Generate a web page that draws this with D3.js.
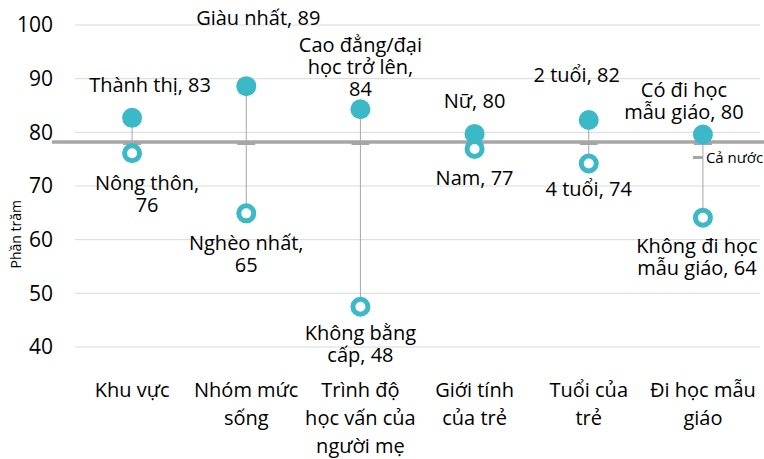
<!DOCTYPE html>
<html>
<head>
<meta charset="utf-8">
<script src="https://cdn.jsdelivr.net/npm/d3@7"></script>
<style>
  body { margin: 0; background: #fff; overflow: hidden; }
  text { font-family: "Open Sans", "Noto Sans", sans-serif; }
</style>
</head>
<body>
<div id="chart"></div>
<script>
// categories (x axis, multi-line)
const categories = [
  ["Khu vực"],
  ["Nhóm mức", "sống"],
  ["Trình độ", "học vấn của", "người mẹ"],
  ["Giới tính", "của trẻ"],
  ["Tuổi của", "trẻ"],
  ["Đi học mẫu", "giáo"]
];
// high group (filled marker); "" as last line = value on its own line
const highNames = [["Thành thị"], ["Giàu nhất"], ["Cao đẳng/đại", "học trở lên", ""], ["Nữ"], ["2 tuổi"], ["Có đi học", "mẫu giáo"]];
const highValues = [82.7, 88.6, 84.3, 79.7, 82.3, 79.6];
// low group (hollow marker)
const lowNames = [["Nông thôn", ""], ["Nghèo nhất", ""], ["Không bằng", "cấp"], ["Nam"], ["4 tuổi"], ["Không đi học", "mẫu giáo"]];
const lowValues = [76.1, 64.9, 47.5, 76.9, 74.2, 64.1];
// national value
const nationalValue = 78.2;
const nationalLabel = "Cả nước";
const yTicks = [40, 50, 60, 70, 80, 90, 100];
const yTitle = "Phần trăm";

const width = 764, height = 459;
const margin = { top: 25, right: 4, bottom: 112, left: 75 };
const teal = "#3bb9c6", grey = "#a6a6a6";

const svg = d3.select("#chart").append("svg")
  .attr("width", width).attr("height", height);

const x = d3.scaleBand()
  .domain(d3.range(categories.length))
  .range([margin.left, width - margin.right]);
const y = d3.scaleLinear()
  .domain([40, 100])
  .range([height - margin.bottom, margin.top]);

// gridlines
svg.append("g").selectAll("line").data(yTicks).join("line")
  .attr("x1", margin.left).attr("x2", width - margin.right)
  .attr("y1", d => y(d)).attr("y2", d => y(d))
  .attr("stroke", "#d9d9d9").attr("stroke-width", 1);

// y axis labels
const yAxis = svg.append("g")
  .attr("transform", `translate(${margin.left - 22},0)`)
  .call(d3.axisLeft(y).tickValues(yTicks).tickSize(0).tickPadding(0));
yAxis.select(".domain").remove();
yAxis.selectAll("text")
  .style("font-family", "'Open Sans', sans-serif")
  .style("font-size", "21px").attr("fill", "#000");

svg.append("text")
  .attr("transform", `translate(21,${y(61)}) rotate(-90)`)
  .attr("text-anchor", "middle")
  .style("font-size", "14px")
  .text(yTitle);

// national average line
svg.append("line")
  .attr("x1", 52).attr("x2", width)
  .attr("y1", y(nationalValue)).attr("y2", y(nationalValue))
  .attr("stroke", grey).attr("stroke-width", 3.5);

const cx = i => x(i) + x.bandwidth() / 2;

// hi-lo lines
svg.append("g").selectAll("line").data(categories).join("line")
  .attr("x1", (d, i) => cx(i)).attr("x2", (d, i) => cx(i))
  .attr("y1", (d, i) => y(highValues[i])).attr("y2", (d, i) => y(lowValues[i]))
  .attr("stroke", grey).attr("stroke-width", 1);

// national dash markers
svg.append("g").selectAll("rect").data(categories).join("rect")
  .attr("x", (d, i) => cx(i) - 9).attr("y", y(nationalValue) - 0.5)
  .attr("width", 18).attr("height", 3.5)
  .attr("fill", grey);

// markers
svg.append("g").selectAll("circle").data(lowValues).join("circle")
  .attr("cx", (d, i) => cx(i)).attr("cy", d => y(d))
  .attr("r", 7.5).attr("fill", "#fff")
  .attr("stroke", teal).attr("stroke-width", 5);
svg.append("g").selectAll("circle").data(highValues).join("circle")
  .attr("cx", (d, i) => cx(i)).attr("cy", d => y(d))
  .attr("r", 10).attr("fill", teal);

// data label placement: [dx, dy of first baseline relative to point]
const highPlace = [[18, -26], [12, -61], [0, -57], [0, -26], [-12, -38], [-19, -37]];
const lowPlace = [[15, 37], [0, 37], [0, 33], [0, 36], [0, 33], [-6, 35]];
const lineH = 22;

function drawLabels(names, values, place) {
  names.forEach((lines, i) => {
    const v = Math.round(values[i]);
    let labelLines;
    if (lines[lines.length - 1] === "") {
      labelLines = lines.slice(0, -1);
      labelLines[labelLines.length - 1] += ",";
      labelLines.push(String(v));
    } else {
      labelLines = lines.slice();
      labelLines[labelLines.length - 1] += ", " + v;
    }
    const t = svg.append("text")
      .attr("text-anchor", "middle")
      .style("font-size", "20px")
      .attr("fill", "#000");
    labelLines.forEach((ln, k) => {
      t.append("tspan")
        .attr("x", cx(i) + place[i][0])
        .attr("y", y(values[i]) + place[i][1] + k * lineH)
        .text(ln);
    });
  });
}
drawLabels(highNames, highValues, highPlace);
drawLabels(lowNames, lowValues, lowPlace);

// x category labels
categories.forEach((lines, i) => {
  const t = svg.append("text")
    .attr("text-anchor", "middle")
    .style("font-size", "20px");
  lines.forEach((ln, k) => {
    t.append("tspan").attr("x", cx(i)).attr("y", 397 + k * 28).text(ln);
  });
});

// legend
const lx = cx(5) - 10;
svg.append("rect")
  .attr("x", lx).attr("y", y(nationalValue) + 14)
  .attr("width", 10).attr("height", 3).attr("fill", grey);
svg.append("text")
  .attr("x", lx + 13).attr("y", y(nationalValue) + 21)
  .style("font-size", "15px")
  .text(nationalLabel);
</script>
</body>
</html>
